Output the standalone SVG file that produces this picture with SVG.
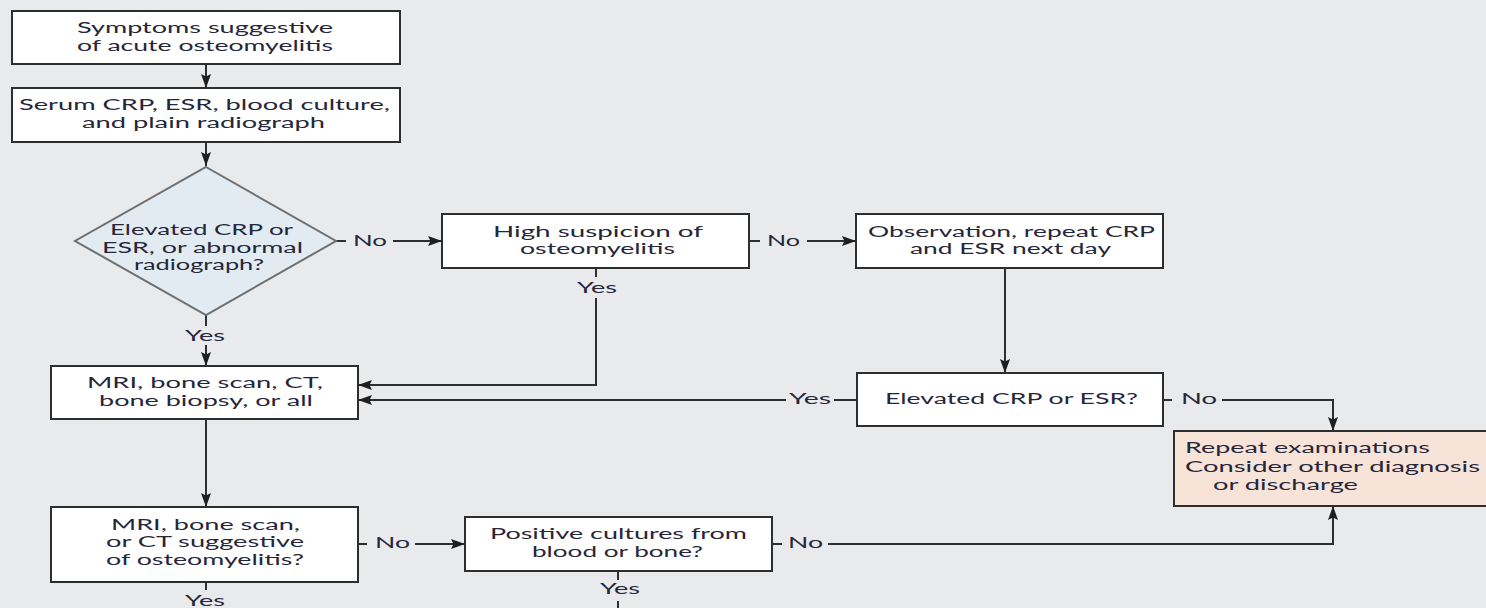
<svg xmlns="http://www.w3.org/2000/svg" width="1486" height="608" viewBox="0 0 1486 608">
<style>
.bx{fill:#ffffff;stroke:#2e2e2e;stroke-width:2}
.dm{fill:#e2ebf2;stroke:#6f6f6f;stroke-width:2}
.rp{fill:#f7e3d8;stroke:#2e2e2e;stroke-width:2}
.cn{fill:none;stroke:#2e2e2e;stroke-width:2}
.ar{marker-end:url(#ah)}
text{font-family:Lato,"Open Sans","Liberation Sans",sans-serif;font-size:15.5px;fill:#26263a}
</style>
<defs>
<marker id="ah" markerUnits="userSpaceOnUse" markerWidth="15" markerHeight="12" refX="14" refY="6" orient="auto">
<path d="M0,1 L14,6 L0,11 L2.5,6 Z" fill="#1e1e1e"/>
</marker>
</defs>
<rect width="1486" height="608" fill="#e9eaec"/>
<g id="connectors">
<path class="cn ar" d="M206,64 V88"/>
<path class="cn ar" d="M206,142 V166"/>
<path class="cn" d="M336,241 H346"/>
<path class="cn ar" d="M393,241 H442"/>
<path class="cn" d="M749,241 H760"/>
<path class="cn ar" d="M807,241 H856"/>
<path class="cn ar" d="M1005,268 V373"/>
<path class="cn" d="M857,400 H834"/>
<path class="cn ar" d="M786,400 H358"/>
<path class="cn" d="M596,268 V277"/>
<path class="cn ar" d="M596,298 V385 H358"/>
<path class="cn" d="M206,315 V326"/>
<path class="cn ar" d="M206,345 V366"/>
<path class="cn ar" d="M206,419 V507"/>
<path class="cn" d="M358,544 H367"/>
<path class="cn ar" d="M415,544 H465"/>
<path class="cn" d="M772,544 H782"/>
<path class="cn ar" d="M828,544 H1333 V506"/>
<path class="cn" d="M1163,400 H1172"/>
<path class="cn ar" d="M1222,400 H1333 V431"/>
<path class="cn" d="M618,571 V580"/>
<path class="cn" d="M618,601 V608"/>
<path class="cn" d="M206,582 V590"/>
<text x="353" y="246" textLength="34" lengthAdjust="spacingAndGlyphs">No</text>
<text x="767" y="246" textLength="33" lengthAdjust="spacingAndGlyphs">No</text>
<text x="185" y="341" textLength="40" lengthAdjust="spacingAndGlyphs">Yes</text>
<text x="577" y="293" textLength="40" lengthAdjust="spacingAndGlyphs">Yes</text>
<text x="789" y="404" textLength="42" lengthAdjust="spacingAndGlyphs">Yes</text>
<text x="1181" y="404" textLength="36" lengthAdjust="spacingAndGlyphs">No</text>
<text x="375" y="548" textLength="35" lengthAdjust="spacingAndGlyphs">No</text>
<text x="788" y="548" textLength="35" lengthAdjust="spacingAndGlyphs">No</text>
<text x="600" y="594" textLength="40" lengthAdjust="spacingAndGlyphs">Yes</text>
<text x="185" y="606" textLength="40" lengthAdjust="spacingAndGlyphs">Yes</text>
</g>
<g id="n-symptoms">
<rect class="bx" x="12" y="11" width="388" height="53"/>
<text x="77" y="33" textLength="256" lengthAdjust="spacingAndGlyphs">Symptoms suggestive</text>
<text x="77" y="51" textLength="256" lengthAdjust="spacingAndGlyphs">of acute osteomyelitis</text>
</g>
<g id="n-serum">
<rect class="bx" x="12" y="88" width="388" height="54"/>
<text x="19" y="110" textLength="371" lengthAdjust="spacingAndGlyphs">Serum CRP, ESR, blood culture,</text>
<text x="82" y="128" textLength="243" lengthAdjust="spacingAndGlyphs">and plain radiograph</text>
</g>
<g id="n-diamond">
<polygon class="dm" points="206,167 336,241 206,315 75,241"/>
<text x="110" y="235" textLength="183" lengthAdjust="spacingAndGlyphs">Elevated CRP or</text>
<text x="102" y="253" textLength="201" lengthAdjust="spacingAndGlyphs">ESR, or abnormal</text>
<text x="134" y="270" textLength="130" lengthAdjust="spacingAndGlyphs">radiograph?</text>
</g>
<g id="n-high">
<rect class="bx" x="442" y="214" width="307" height="54"/>
<text x="493" y="237" textLength="210" lengthAdjust="spacingAndGlyphs">High suspicion of</text>
<text x="520" y="254" textLength="155" lengthAdjust="spacingAndGlyphs">osteomyelitis</text>
</g>
<g id="n-observation">
<rect class="bx" x="856" y="214" width="307" height="54"/>
<text x="868" y="237" textLength="287" lengthAdjust="spacingAndGlyphs">Observation, repeat CRP</text>
<text x="910" y="254" textLength="201" lengthAdjust="spacingAndGlyphs">and ESR next day</text>
</g>
<g id="n-mri">
<rect class="bx" x="51" y="366" width="307" height="53"/>
<text x="87" y="388" textLength="236" lengthAdjust="spacingAndGlyphs">MRI, bone scan, CT,</text>
<text x="99" y="406" textLength="214" lengthAdjust="spacingAndGlyphs">bone biopsy, or all</text>
</g>
<g id="n-elevated">
<rect class="bx" x="857" y="373" width="306" height="53"/>
<text x="885" y="404" textLength="253" lengthAdjust="spacingAndGlyphs">Elevated CRP or ESR?</text>
</g>
<g id="n-repeat">
<rect class="rp" x="1174" y="431" width="320" height="75"/>
<text x="1185" y="453" textLength="245" lengthAdjust="spacingAndGlyphs">Repeat examinations</text>
<text x="1185" y="472" textLength="295" lengthAdjust="spacingAndGlyphs">Consider other diagnosis</text>
<text x="1213" y="490" textLength="145" lengthAdjust="spacingAndGlyphs">or discharge</text>
</g>
<g id="n-mri2">
<rect class="bx" x="51" y="507" width="307" height="75"/>
<text x="111" y="530" textLength="189" lengthAdjust="spacingAndGlyphs">MRI, bone scan,</text>
<text x="106" y="547" textLength="198" lengthAdjust="spacingAndGlyphs">or CT suggestive</text>
<text x="106" y="565" textLength="198" lengthAdjust="spacingAndGlyphs">of osteomyelitis?</text>
</g>
<g id="n-cultures">
<rect class="bx" x="465" y="517" width="307" height="54"/>
<text x="490" y="539" textLength="257" lengthAdjust="spacingAndGlyphs">Positive cultures from</text>
<text x="532" y="557" textLength="171" lengthAdjust="spacingAndGlyphs">blood or bone?</text>
</g>
</svg>
